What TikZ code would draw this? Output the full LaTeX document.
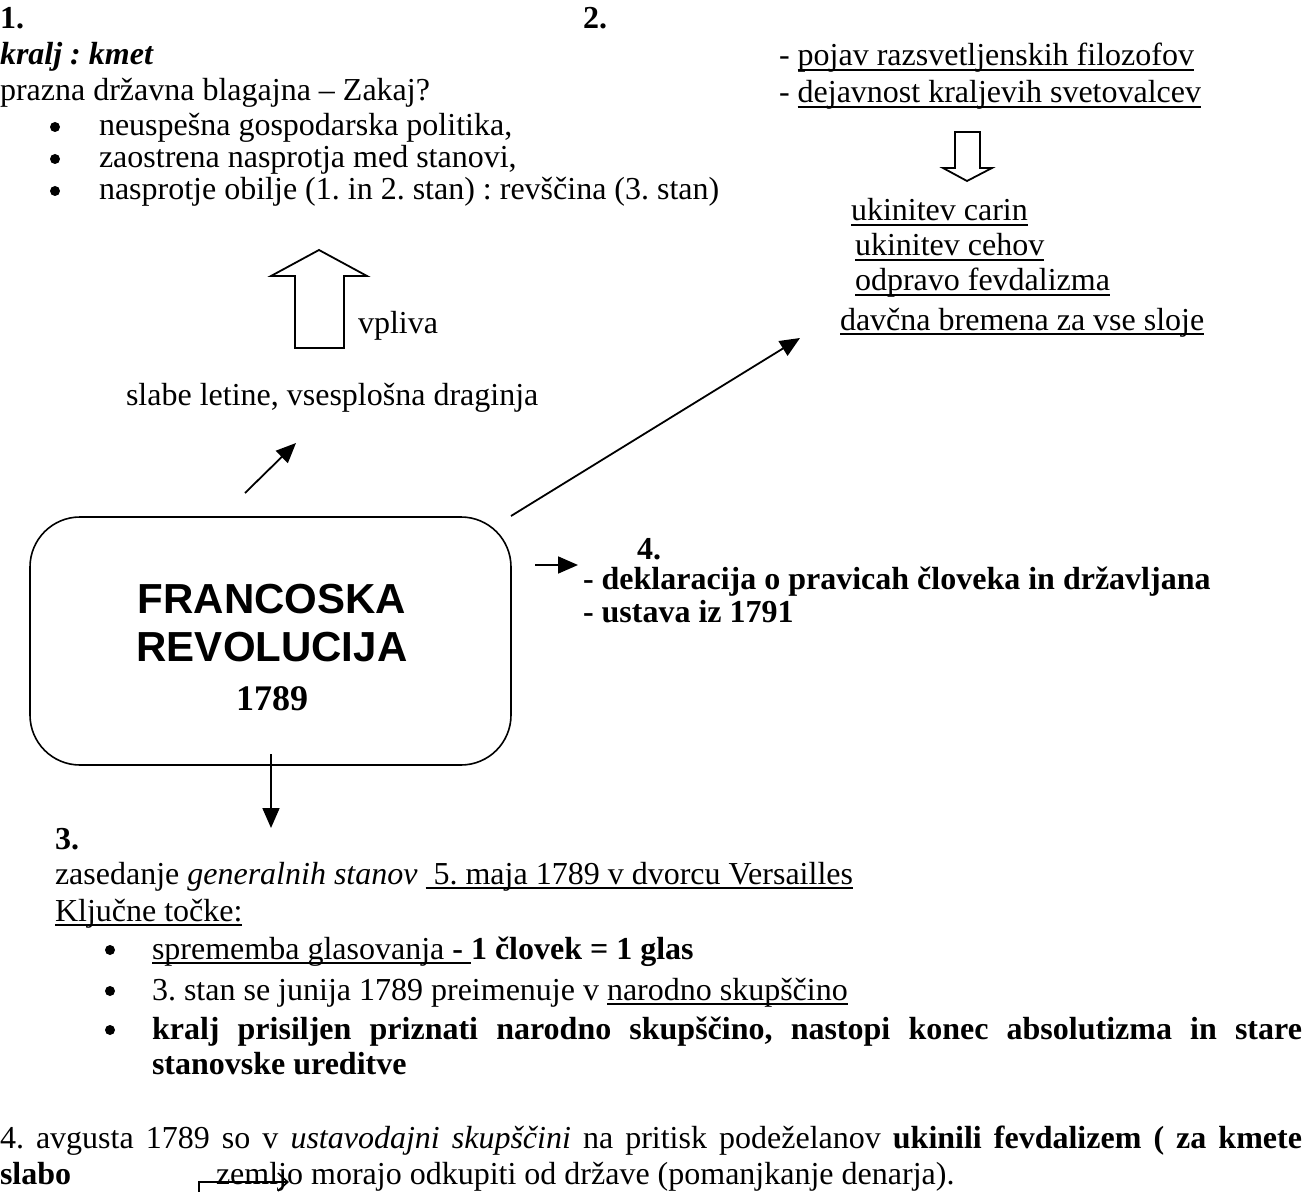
\documentclass[tikz,border=0pt]{standalone}
\usepackage{fontspec}
\setmainfont{Liberation Serif}
\newfontfamily\arialfont{Liberation Sans}
\usetikzlibrary{arrows.meta}
\newsavebox\ulbox
\newcommand\myul[1]{\sbox\ulbox{#1}\rlap{\rule[-2.6pt]{\wd\ulbox}{0.9pt}}\usebox\ulbox}
\newcommand\bodyfs{\fontsize{16}{19}\selectfont\frenchspacing}
\begin{document}
\begin{tikzpicture}[x=0.5pt,y=-0.5pt,
  every node/.style={inner sep=0pt, outer sep=0pt, anchor=base west, font=\bodyfs},
  conn/.style={line width=0.9pt, -{Triangle[length=10pt,width=8.5pt]}},
  hollow/.style={draw, line width=0.9pt, line join=miter},
  dot/.style={circle, fill=black, minimum size=5pt, anchor=center}]
\path[use as bounding box, fill=white] (0,0) rectangle (1305,1192);

% ---- section 1
\node (n1) at (0,29) {\bfseries 1.};
\node (n2) at (583,29) {\bfseries 2.};
\node (km) at (0,65) {\bfseries\itshape kralj : kmet};
\node (pz) at (0,101) {prazna državna blagajna – Zakaj?};
\node[dot] (d1) at (55,127) {};
\node (t1) at (99,136) {neuspešna gospodarska politika,};
\node[dot] (d2) at (55,159) {};
\node (t2) at (99,168) {zaostrena nasprotja med stanovi,};
\node[dot] (d3) at (55,191) {};
\node (t3) at (99,200) {nasprotje obilje (1. in 2. stan) : revščina (3. stan)};

% ---- section 2
\node (r1) at (779,66) {- \myul{pojav razsvetljenskih filozofov}};
\node (r2) at (779,103) {- \myul{dejavnost kraljevih svetovalcev}};
\draw[hollow] (955,132) -- (980,132) -- (980,168) -- (992,168) -- (967,181) -- (943,168) -- (955,168) -- cycle;
\node (u1) at (851,221) {\myul{ukinitev carin}};
\node (u2) at (855,256) {\myul{ukinitev cehov}};
\node (u3) at (855,291) {\myul{odpravo fevdalizma}};
\node (u4) at (840,330) {\myul{davčna bremena za vse sloje}};

% ---- vpliva
\draw[hollow] (295,348) -- (344,348) -- (344,276) -- (367,276) -- (319,250) -- (271,276) -- (295,276) -- cycle;
\node (vp) at (358,334) {vpliva};
\node (sl) at (126,405) {slabe letine, vsesplošna draginja};

% ---- central box
\node[draw, line width=0.8pt, rounded corners=25pt, minimum width=240.5pt,
      minimum height=124pt, anchor=center] (box) at (270.5,641) {};
\node[anchor=base, font=\arialfont\bfseries\fontsize{21}{25}\selectfont] (fr) at (272,613) {FRANCOSKA};
\node[anchor=base, font=\arialfont\bfseries\fontsize{21}{25}\selectfont] (rv) at (272,661) {REVOLUCIJA};
\node[anchor=base, font=\bfseries\fontsize{18}{21}\selectfont] (yr) at (272,710) {1789};

% ---- connectors
\coordinate (sa1) at (245,493); \coordinate (sa2) at (296,443);
\draw[conn] (sa1) -- (sa2);
\coordinate (la1) at (511,516); \coordinate (la2) at (800,338);
\draw[conn] (la1) -- (la2);
\coordinate (ra1) at (535,565); \coordinate (ra2) at (578,565);
\draw[conn] (ra1) -- (ra2);
\coordinate (da1) at (271,754); \coordinate (da2) at (271,828);
\draw[conn] (da1) -- (da2);

% ---- section 4
\node (n4) at (637,559) {\bfseries 4.};
\node (dk) at (583,589) {\bfseries - deklaracija o pravicah človeka in državljana};
\node (us) at (583,622) {\bfseries - ustava iz 1791};

% ---- section 3
\node (n3) at (55,849) {\bfseries 3.};
\node (zs) at (55,884) {zasedanje \textit{generalnih stanov} \myul{\ 5. maja 1789 v dvorcu Versailles}};
\node (kt) at (55,921) {\myul{Ključne točke:}};
\node[dot] (e1) at (110,950) {};
\node (f1) at (152,959) {\myul{sprememba glasovanja \textbf{- }}\textbf{1 človek = 1 glas}};
\node[dot] (e2) at (110,991) {};
\node (f2) at (152,1000) {3. stan se junija 1789 preimenuje v \myul{narodno skupščino}};
\node[dot] (e3) at (110,1030) {};
\node (f3) at (152,1039) {\makebox[575pt][s]{\bfseries kralj prisiljen priznati narodno skupščino, nastopi konec absolutizma in stare}};
\node (f4) at (152,1074) {\bfseries stanovske ureditve};

% ---- last paragraph
\node (pa) at (0,1148) {\makebox[651pt][s]{4. avgusta 1789 so v \textit{ustavodajni skupščini} na pritisk podeželanov \textbf{ukinili fevdalizem ( za kmete}}};
\node (sb) at (0,1184) {\bfseries slabo};
\node (zm) at (216,1184) {zemljo morajo odkupiti od države (pomanjkanje denarja).};
\coordinate (el1) at (199,1200); \coordinate (el2) at (289,1182);
\draw[line width=0.8pt, -{Straight Barb[length=5pt,width=9pt]}] (el1) |- (el2);
\end{tikzpicture}
\end{document}
